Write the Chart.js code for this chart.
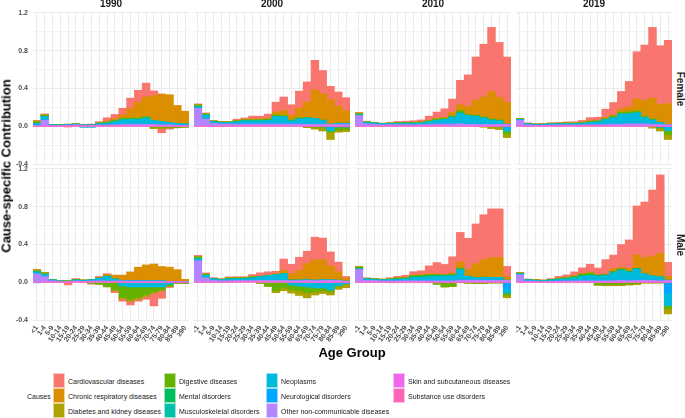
<!DOCTYPE html>
<html>
<head>
<meta charset="utf-8">
<title>Cause-specific contribution by age group</title>
<script src="https://cdn.jsdelivr.net/npm/chart.js@4.4.1/dist/chart.umd.min.js"></script>
<style>
  html, body { margin: 0; padding: 0; background: #fff; }
  body { width: 685px; height: 418px; position: relative; overflow: hidden; font-family: "Liberation Sans", Arial, sans-serif; color: #1a1a1a; }
  canvas { position: absolute; }
  .txt { position: absolute; white-space: nowrap; line-height: 1; }
  .strip { font-size: 10px; font-weight: bold; }
  .title { font-size: 13px; font-weight: bold; color: #000; }
  .legtxt { font-size: 7px; }
  .key { position: absolute; width: 12px; height: 15px; box-sizing: border-box; border: 1px solid rgba(255,255,255,0.6); }
</style>
</head>
<body>
<script>
// Data
const years = ['1990', '2000', '2010', '2019'];
const sexes = ['Female', 'Male'];
const ageGroups = ['<1', '1-4', '5-9', '10-14', '15-19', '20-24', '25-29', '30-34', '35-39', '40-44',
  '45-49', '50-54', '55-59', '60-64', '65-69', '70-74', '75-79', '80-84', '85-89', '≥90'];
const causes = ['Cardiovascular diseases', 'Chronic respiratory diseases', 'Diabetes and kidney diseases',
  'Digestive diseases', 'Mental disorders', 'Musculoskeletal disorders', 'Neoplasms',
  'Neurological disorders', 'Other non-communicable diseases', 'Skin and subcutaneous diseases',
  'Substance use disorders'];
const causeColors = ['#F8766D', '#DB8E00', '#AEA200', '#64B200', '#00BD5C', '#00C1A7', '#00BADE',
  '#00A6FF', '#B385FF', '#EF67EB', '#FF63B6'];
const yTicks = [-0.4, -0.2, 0, 0.2, 0.4, 0.6, 0.8, 1.0, 1.2];
const yLabelTicks = [-0.4, 0, 0.4, 0.8, 1.2];

// rows: F1990, F2000, F2010, F2019, M1990, M2000, M2010, M2019
const cardiovascular = [
  [0.005,0.01,0,0,-0.008,0.002,0,0.002,0.008,0.035,0.045,0.07,0.113,0.124,0.148,0.053,-0.042,-0.01,0,0],
  [0.005,0.006,0.003,0.002,0.002,0.012,0.014,0.03,0.028,0.04,0.105,0.145,0.11,0.18,0.215,0.315,0.245,0.14,0.15,0.14],
  [0.003,0.002,0.002,0.002,0.004,0.01,0.012,0.015,0.018,0.042,0.064,0.092,0.141,0.26,0.335,0.46,0.56,0.68,0.58,0.48],
  [0.002,0.002,0.002,0.002,0.003,0.005,0.008,0.012,0.018,0.035,0.03,0.09,0.13,0.184,0.27,0.5,0.586,0.75,0.62,0.67],
  [0.004,0.003,0,0,-0.028,0.006,-0.005,-0.008,0.008,0.01,-0.02,-0.025,-0.04,-0.02,-0.03,-0.135,-0.08,-0.01,0.002,0],
  [0.01,0.01,0.004,0.003,0.008,0.008,0.008,0.02,0.035,0.035,0.025,0.12,0.1,0.14,0.13,0.24,0.23,0.15,0.1,0.018],
  [0.002,0.002,0.002,0.002,0.008,0.015,0.02,0.035,0.04,0.085,0.12,0.106,0.17,0.314,0.33,0.42,0.477,0.515,0.515,0.11],
  [0.002,0.002,0.002,0.002,0.006,0.018,0.025,0.04,0.06,0.088,0.07,0.152,0.145,0.24,0.3,0.52,0.59,0.7,0.83,0.148]
];
const chronicRespiratory = [
  [0,0,0,0,0,0,0,0.002,0.005,0.01,0.015,0.035,0.095,0.166,0.205,0.258,0.29,0.293,0.187,0.134],
  [0.003,0.003,0.002,0.002,0.002,0.004,0.005,0.008,0.008,0.01,0.025,0.045,0.045,0.1,0.165,0.3,0.28,0.26,0.18,0.13],
  [0.002,0.002,0.001,0.001,0.001,0.002,0.002,0.003,0.004,0.005,0.005,0.006,0.035,0.056,0.081,0.155,0.21,0.29,0.24,0.23],
  [0.002,0.001,0.001,0.001,0.001,0.002,0.002,0.002,0.003,0.004,0.005,0.006,0.01,0.03,0.045,0.12,0.166,0.22,0.19,0.22],
  [0.002,0.002,0,0,0,0.004,0.004,0.004,0.008,0.015,0.04,0.055,0.09,0.14,0.165,0.175,0.15,0.15,0.12,0.02],
  [0.002,0.002,0.002,0.002,0.004,0.004,0.004,0.005,0.005,0.005,0.01,0.035,0.065,0.1,0.17,0.215,0.21,0.145,0.09,0.03],
  [0.002,0.001,0.001,0.001,0.002,0.003,0.004,0.005,0.006,0.006,0.008,0.008,0.02,0.064,0.07,0.148,0.184,0.21,0.21,0.035],
  [0.002,0.001,0.001,0.001,0.002,0.003,0.003,0.004,0.005,0.005,0.006,0.008,0.03,0.02,0.03,0.14,0.17,0.21,0.25,0.04]
];
const diabetesKidney = [
  [0.01,0.005,0,0,0,0,0,0,0.002,0.003,0.004,0.004,0.005,0.005,0.004,-0.015,-0.015,-0.01,-0.005,-0.004],
  [0.004,0.003,0.001,0.001,0.001,0.002,0.002,0.003,0.003,0.004,0.008,0.008,0.006,0.005,-0.01,-0.02,-0.03,-0.08,-0.02,-0.02],
  [0.005,0.002,0.001,0.001,0.001,0.002,0.002,0.002,0.003,0.003,0.005,0.004,0.004,0.004,0.003,0.002,-0.01,-0.025,-0.03,-0.035],
  [0.003,0.001,0.001,0.001,0.001,0.001,0.002,0.002,0.002,0.003,0.004,0.004,0.005,0.008,0.01,0.01,0.004,-0.02,-0.03,-0.05],
  [0.006,0.003,0,0,0,0,0,-0.002,-0.003,-0.005,-0.01,-0.015,-0.02,-0.02,-0.02,-0.015,-0.01,-0.005,-0.003,-0.005],
  [0.004,0.002,0,0,0,0,0,0,-0.003,-0.005,-0.02,-0.03,-0.035,-0.05,-0.055,-0.035,-0.03,-0.035,-0.03,-0.04],
  [0.006,0.002,0.001,0.001,0.001,0.002,0.002,0.002,0.002,0.003,0.004,-0.005,-0.005,-0.004,-0.004,-0.005,-0.005,-0.004,-0.004,-0.025],
  [0.003,0.001,0.001,0.001,0.001,0.001,0.002,0.002,0.002,0.003,-0.005,-0.012,-0.012,-0.012,-0.01,-0.01,-0.005,-0.005,-0.005,-0.053]
];
const digestive = [
  [0.015,0.01,0.003,0.002,0.002,0.002,0.002,0.003,0.005,0.006,0.008,0.01,0.01,0.01,0.01,-0.01,-0.012,-0.01,-0.012,-0.008],
  [0.014,0.01,0.006,0.005,0.005,0.008,0.008,0.008,0.008,0.008,0.01,0.01,0.008,0.006,-0.005,-0.01,-0.015,-0.01,-0.035,-0.03],
  [0.014,0.006,0.004,0.003,0.004,0.004,0.004,0.005,0.006,0.006,0.01,0.007,0.008,0.025,0.01,0.01,0.01,0.01,0.01,-0.035],
  [0.004,0.004,0.003,0.003,0.004,0.004,0.004,0.004,0.006,0.006,0.008,0.01,0.012,0.015,0.015,0.015,0.01,0.01,-0.01,-0.045],
  [0.014,0.014,0.004,0.002,0.002,0.004,0.002,-0.01,-0.02,-0.045,-0.08,-0.12,-0.13,-0.11,-0.08,-0.05,-0.03,-0.02,-0.005,-0.005],
  [0.018,0.01,0.006,0.005,0.008,0.008,0.008,0.008,-0.01,-0.04,-0.09,-0.06,-0.05,-0.05,-0.06,-0.04,-0.03,-0.02,-0.01,-0.003],
  [0.015,0.005,0.005,0.004,0.005,0.006,0.006,0.01,0.01,0.01,-0.02,-0.045,-0.04,0.01,-0.008,-0.01,-0.01,-0.006,-0.006,-0.025],
  [0.007,0.004,0.004,0.003,0.004,0.006,0.007,0.01,0.012,0.015,-0.025,-0.023,-0.023,-0.023,-0.02,-0.015,-0.005,-0.005,-0.005,-0.035]
];
const mental = [
  [0.001,0.001,0.001,0.001,0.002,0.002,0.002,0.002,0.002,0.002,0.002,0.002,0.002,0.002,0.002,0.001,0.001,0.001,0.001,0.001],
  [0.001,0.001,0.001,0.001,0.002,0.002,0.002,0.002,0.002,0.002,0.002,0.002,0.002,0.002,0.002,0.001,0.001,0.001,0.001,0.001],
  [0.001,0.001,0.001,0.001,0.002,0.002,0.002,0.002,0.002,0.002,0.002,0.002,0.002,0.002,0.002,0.001,0.001,0.001,0.001,0.001],
  [0.001,0.001,0.001,0.001,0.002,0.002,0.002,0.002,0.002,0.002,0.002,0.002,0.002,0.002,0.002,0.001,0.001,0.001,0.001,0.001],
  [0.001,0.001,0.001,0.001,0.002,0.002,0.002,0.002,0.002,0.002,0.002,0.002,0.002,0.002,0.002,0.001,0.001,0.001,0.001,0.001],
  [0.001,0.001,0.001,0.001,0.002,0.002,0.002,0.002,0.002,0.002,0.002,0.002,0.002,0.002,0.002,0.001,0.001,0.001,0.001,0.001],
  [0.001,0.001,0.001,0.002,0.003,0.004,0.005,0.01,0.01,0.01,0.012,0.01,0.01,0.005,0.003,0.002,0.001,0.001,0.001,0.001],
  [0.001,0.001,0.001,0.002,0.003,0.004,0.005,0.008,0.01,0.01,0.01,0.01,0.012,0.012,0.01,0.01,0.002,0.001,0.001,0.001]
];
const musculoskeletal = [
  [0,0,0,0.001,0.001,0.001,0.001,0.001,0.001,0.002,0.002,0.002,0.002,0.002,0.002,0.002,0.002,0.001,0.001,0.001],
  [0,0,0,0.001,0.001,0.001,0.001,0.001,0.001,0.002,0.002,0.002,0.002,0.002,0.002,0.002,0.002,0.001,0.001,0.001],
  [0,0,0,0.001,0.001,0.001,0.001,0.001,0.001,0.002,0.002,0.002,0.002,0.002,0.002,0.002,0.002,0.001,0.001,0.001],
  [0,0,0,0.001,0.001,0.001,0.001,0.001,0.001,0.002,0.002,0.002,0.002,0.002,0.002,0.002,0.002,0.001,0.001,0.001],
  [0,0,0,0.001,0.001,0.001,0.001,0.001,0.001,0.002,0.002,0.002,0.002,0.002,0.002,0.002,0.002,0.001,0.001,0.001],
  [0,0,0,0.001,0.001,0.001,0.001,0.001,0.001,0.002,0.002,0.002,0.002,0.002,0.002,0.002,0.002,0.001,0.001,0.001],
  [0,0,0,0.001,0.001,0.001,0.001,0.001,0.001,0.002,0.002,0.002,0.002,0.002,0.002,0.002,0.002,0.001,0.001,0.001],
  [0,0,0,0.001,0.001,0.001,0.001,0.001,0.001,0.002,0.002,0.002,0.002,0.002,0.002,0.002,0.002,0.001,0.001,0.001]
];
const neoplasms = [
  [0.008,0.035,0.005,0.004,0.003,0.003,-0.012,-0.012,0.01,0.015,0.03,0.045,0.045,0.045,0.06,0.035,0.028,0.02,0.015,0.01],
  [0.015,0.039,0.015,0.012,0.012,0.02,0.03,0.03,0.03,0.035,0.075,0.07,0.028,0.05,0.06,0.055,0.04,-0.045,0.01,0.01],
  [0.003,0.012,0.01,0.007,0.008,0.01,0.012,0.012,0.013,0.025,0.035,0.045,0.07,0.106,0.085,0.078,0.06,0.04,0.035,-0.04],
  [0.006,0.008,0.006,0.006,0.008,0.008,0.01,0.01,0.012,0.02,0.025,0.045,0.065,0.1,0.1,0.11,0.06,0.04,0.02,-0.035],
  [0.02,0.018,0.006,0.003,0.002,0.006,0.006,0.008,0.025,0.045,0.015,-0.04,-0.05,-0.05,-0.05,-0.05,-0.05,-0.02,-0.005,-0.005],
  [0.02,0.025,0.012,0.008,0.015,0.015,0.015,0.025,0.035,0.045,0.055,0.065,-0.03,-0.04,-0.05,-0.06,-0.06,-0.08,-0.03,-0.01],
  [0.004,0.012,0.01,0.008,0.012,0.015,0.018,0.03,0.035,0.04,0.045,0.045,0.05,0.106,0.035,0.02,0.025,0.025,0.025,-0.045],
  [0.007,0.01,0.007,0.005,0.01,0.015,0.02,0.028,0.045,0.05,0.045,0.05,0.08,0.1,0.085,0.11,0.06,0.04,0.035,-0.134]
];
const neurological = [
  [0.012,0.004,0.002,0.002,0.002,0.002,0.002,0.002,0.002,0.003,0.003,0.003,0.004,0.004,0.004,0.004,0.004,0.003,0.003,0.002],
  [0.004,0.004,0.002,0.002,0.002,0.003,0.003,0.003,0.003,0.003,0.004,0.004,0.004,0.004,0.004,0.004,-0.005,-0.005,-0.008,-0.008],
  [0.003,0.003,0.002,0.002,0.002,0.002,0.002,0.002,0.002,0.003,0.003,0.003,0.003,0.004,0.004,0.004,0.004,0.004,-0.005,-0.01],
  [0.003,0.002,0.002,0.002,0.002,0.002,0.002,0.002,0.002,0.003,0.003,0.003,0.003,0.004,0.004,0.004,0.004,0.004,-0.01,-0.01],
  [-0.006,0.003,0.002,0.002,0.002,0.002,0.002,0.002,0.002,0.003,0.003,0.003,0.003,0.003,0.003,0.003,0.002,0.002,0.002,0.002],
  [0.003,0.003,0.002,0.002,0.002,0.002,0.002,0.002,0.002,0.003,0.003,0.003,0.003,0.003,0.003,0.003,0.003,0.003,-0.005,-0.005],
  [0.003,0.002,0.002,0.002,0.002,0.002,0.002,0.002,0.002,0.003,0.003,0.003,0.003,0.004,0.004,0.004,0.004,0.004,0.004,-0.07],
  [0.003,0.002,0.002,0.002,0.002,0.002,0.002,0.002,0.002,0.003,0.003,0.003,0.003,0.004,0.004,0.004,0.004,0.004,0.004,-0.113]
];
const otherNCD = [
  [0.01,0.065,0.006,0.005,0.01,0.012,0.008,0.008,0.01,0.01,0.012,0.015,0.02,0.02,0.02,0.02,0.015,0.015,0.01,0.01],
  [0.19,0.074,0.03,0.025,0.022,0.02,0.02,0.02,0.02,0.02,0.02,0.02,0.02,0.02,0.02,0.02,0.02,0.02,0.02,0.02],
  [0.113,0.025,0.02,0.015,0.015,0.015,0.014,0.014,0.014,0.015,0.02,0.02,0.02,0.025,0.02,0.02,0.02,0.02,0.02,0.02],
  [0.062,0.015,0.01,0.01,0.012,0.012,0.012,0.01,0.012,0.013,0.013,0.015,0.02,0.02,0.025,0.025,0.025,0.02,0.02,0.017],
  [0.088,0.06,0.015,0.006,0.004,0.01,0.006,0.01,0.01,0.01,0.01,0.01,0.01,0.01,0.01,0.01,0.01,0.005,0.005,0.005],
  [0.226,0.045,0.02,0.015,0.015,0.015,0.015,0.015,0.015,0.015,0.015,0.015,0.015,0.015,0.02,0.015,0.02,0.02,0.02,0.01],
  [0.134,0.02,0.018,0.012,0.012,0.012,0.012,0.012,0.012,0.012,0.012,0.012,0.012,0.02,0.02,0.02,0.02,0.02,0.02,0.02],
  [0.078,0.012,0.01,0.006,0.008,0.01,0.01,0.01,0.012,0.012,0.012,0.012,0.013,0.018,0.015,0.02,0.02,0.02,0.015,0.02]
];
const skin = [
  [0.001,0.001,0.001,0.001,0.001,0.002,0.002,0.002,0.003,0.003,0.003,0.003,0.003,0.003,0.002,0.002,0.002,0.001,0.001,0.001],
  [0.001,0.001,0.001,0.001,0.001,0.002,0.002,0.002,0.003,0.003,0.003,0.003,0.003,0.003,0.002,0.002,0.002,0.001,0.001,0.001],
  [0.001,0.001,0.001,0.001,0.001,0.002,0.002,0.002,0.003,0.003,0.003,0.003,0.003,0.003,0.002,0.002,0.002,0.001,0.001,0.001],
  [0.001,0.001,0.001,0.001,0.001,0.002,0.002,0.002,0.003,0.003,0.003,0.003,0.003,0.003,0.002,0.002,0.002,0.001,0.001,0.001],
  [0.001,0.001,0.001,0.001,0.001,0.002,0.002,0.002,0.003,0.003,0.003,0.003,0.003,0.003,0.002,0.002,0.002,0.001,0.001,0.001],
  [0.001,0.001,0.001,0.001,0.001,0.002,0.002,0.002,0.003,0.003,0.003,0.003,0.003,0.003,0.002,0.002,0.002,0.001,0.001,0.001],
  [0.001,0.001,0.001,0.001,0.002,0.003,0.004,0.005,0.004,0.003,0.003,0.003,0.003,0.003,0.002,0.002,0.002,0.001,0.001,0.001],
  [0.001,0.001,0.001,0.001,0.002,0.003,0.004,0.005,0.004,0.003,0.003,0.003,0.003,0.003,0.002,0.002,0.002,0.001,0.001,0.001]
];
const substanceUse = [
  [0,0,0,0,0.001,0.001,0.001,0.001,0.001,0.001,0.001,0.001,0,0,0,0,0,0,0,0],
  [0,0,0,0,0.001,0.001,0.001,0.001,0.001,0.001,0.001,0.001,0,0,0,0,0,0,0,0],
  [0,0,0,0,0.001,0.001,0.001,0.001,0.001,0.001,0.001,0.001,0,0,0,0,0,0,0,0],
  [0,0,0,0,0.001,0.001,0.001,0.001,0.001,0.001,0.001,0.001,0,0,0,0,0,0,0,0],
  [0,0,0,0,0.001,0.002,0.002,0.002,0.002,0.001,0.001,0.001,0,0,0,0,0,0,0,0],
  [0,0,0,0,0.001,0.002,0.002,0.002,0.002,0.001,0.001,0.001,0,0,0,0,0,0,0,0],
  [0,0,0,0.001,-0.003,-0.004,-0.004,-0.004,-0.004,-0.003,-0.003,-0.002,-0.002,-0.001,0,0,0,0,0,0],
  [0,0,0,0.001,-0.003,-0.004,-0.004,-0.004,-0.004,-0.003,-0.003,-0.002,-0.002,-0.001,0,0,0,0,0,0]
];
const causeValues = [cardiovascular, chronicRespiratory, diabetesKidney, digestive, mental,
  musculoskeletal, neoplasms, neurological, otherNCD, skin, substanceUse];

// Layout
const panelLeft = [33, 194, 355, 516];
const panelTop = [12, 168];
const panelW = 156;
const panelH = 153;
const yAxisW = 33;
const xAxisH = 30;
const pad = 6;

Chart.defaults.font.family = '"Liberation Sans", Arial, sans-serif';

function addText(text, x, y, cls, rot, align) {
  const d = document.createElement('div');
  d.className = 'txt ' + cls;
  d.textContent = text;
  d.style.left = x + 'px';
  d.style.top = y + 'px';
  const tx = align === 'left' ? '0' : '-50%';
  d.style.transform = `translate(${tx}, -50%)` + (rot ? ` rotate(${rot}deg)` : '');
  document.body.appendChild(d);
  return d;
}

function makePanel(row, col) {
  const p = row * 4 + col;
  const canvas = document.createElement('canvas');
  const left = col === 0 ? 0 : panelLeft[col];
  const w = panelW + (col === 0 ? yAxisW : 0);
  const h = pad + panelH + (row === 1 ? xAxisH : pad);
  canvas.width = w;
  canvas.height = h;
  canvas.style.left = left + 'px';
  canvas.style.top = (panelTop[row] - pad) + 'px';
  canvas.style.width = w + 'px';
  canvas.style.height = h + 'px';
  document.body.appendChild(canvas);

  // ggplot stacks the first level farthest from zero, so feed causes in reverse
  const datasets = causes.map((name, c) => ({
    label: name,
    data: causeValues[c][p],
    backgroundColor: causeColors[c],
    borderWidth: 0,
    barPercentage: 1,
    categoryPercentage: 1
  })).reverse();

  new Chart(canvas.getContext('2d'), {
    type: 'bar',
    data: { labels: ageGroups, datasets },
    options: {
      responsive: false,
      animation: false,
      devicePixelRatio: 1,
      layout: { padding: { top: pad, bottom: row === 1 ? 0 : pad, left: 0, right: 0 } },
      plugins: { legend: { display: false }, tooltip: { enabled: false } },
      scales: {
        x: {
          stacked: true,
          offset: true,
          grid: { offset: false, color: '#ebebeb', lineWidth: 1, drawTicks: false },
          border: { display: false },
          ticks: {
            display: row === 1,
            autoSkip: false,
            minRotation: 55,
            maxRotation: 55,
            padding: 3,
            color: '#4d4d4d',
            font: { size: 7, weight: 'bold' }
          },
          afterFit: s => { s.height = row === 1 ? xAxisH : 0; s.paddingLeft = 0; s.paddingRight = 0; }
        },
        y: {
          stacked: true,
          min: -0.41,
          max: 1.21,
          afterBuildTicks: s => { s.ticks = yTicks.map(v => ({ value: v })); },
          grid: {
            color: ctx => yLabelTicks.includes(ctx.tick.value) ? '#ebebeb' : '#f3f3f3',
            lineWidth: 1,
            drawTicks: false
          },
          border: { display: false },
          ticks: {
            display: col === 0,
            padding: 5,
            color: '#4d4d4d',
            font: { size: 7, weight: 'bold' },
            callback: v => yLabelTicks.includes(v) ? v.toFixed(1) : ''
          },
          afterFit: s => { s.width = col === 0 ? yAxisW : 0; s.paddingTop = 0; s.paddingBottom = 0; }
        }
      }
    }
  });
}

for (let r = 0; r < sexes.length; r++) {
  for (let c = 0; c < years.length; c++) makePanel(r, c);
}

// Strip labels and titles
years.forEach((y, c) => addText(y, panelLeft[c] + panelW / 2, 4, 'strip'));
sexes.forEach((s, r) => addText(s, 680, panelTop[r] + panelH / 2, 'strip', 90));
addText('Cause-specific Contribution', 6, 166, 'title', -90);
addText('Age Group', 352, 352, 'title');

// Legend (column-major, 3 rows)
const keyX = [53, 164, 266, 393];
const keyTop = 373;
addText('Causes', 27, keyTop + 22.5, 'legtxt', 0, 'left');
causes.forEach((name, i) => {
  const col = Math.floor(i / 3), r = i % 3;
  const k = document.createElement('div');
  k.className = 'key';
  k.style.left = keyX[col] + 'px';
  k.style.top = (keyTop + r * 15) + 'px';
  k.style.background = causeColors[i];
  document.body.appendChild(k);
  addText(name, keyX[col] + 15, keyTop + r * 15 + 7.5, 'legtxt', 0, 'left');
});
</script>
</body>
</html>
